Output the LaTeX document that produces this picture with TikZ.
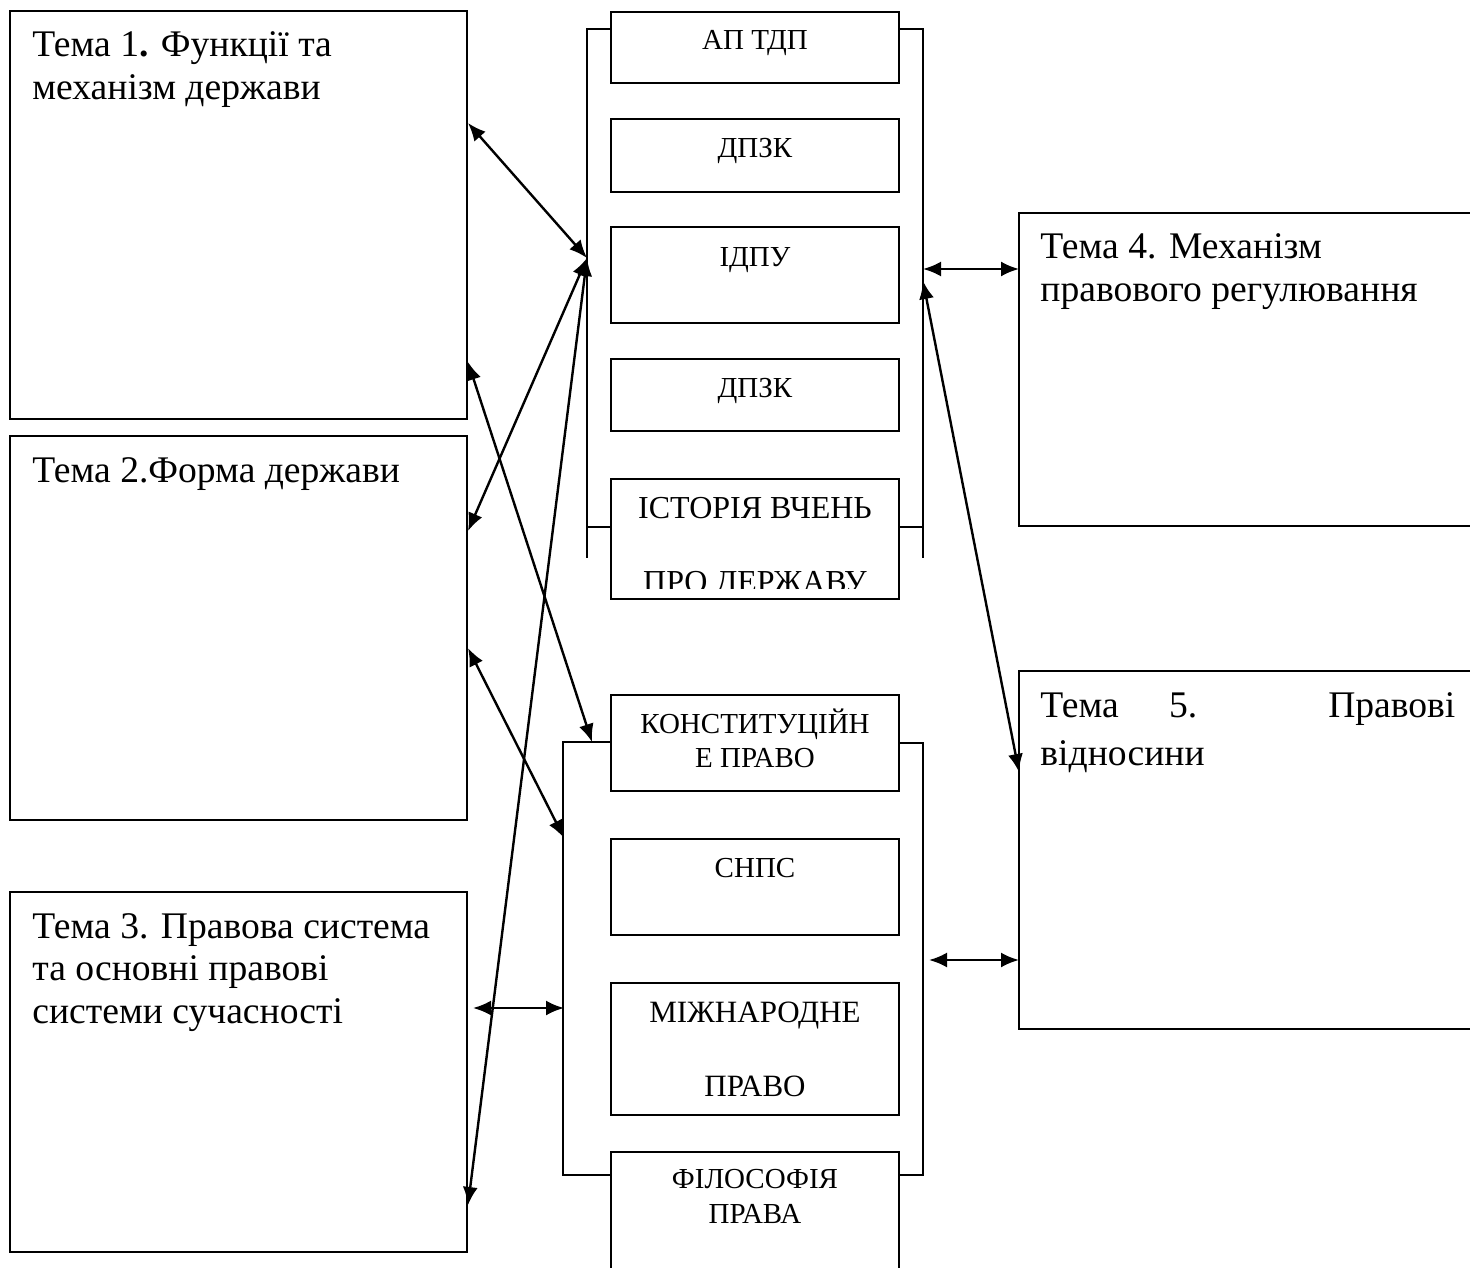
\documentclass[tikz,border=0pt]{standalone}
\usepackage{fontspec}
\setmainfont{Liberation Serif}
\usetikzlibrary{arrows.meta,fit}
\begin{document}
\begin{tikzpicture}[x=0.5pt,y=-0.5pt,
  box/.style={draw, line width=0.6pt, inner sep=0pt, rectangle},
  brk/.style={line width=0.6pt},
  big/.style={font=\fontsize{18.8}{21.5}\selectfont, inner sep=0pt, anchor=base west},
  small/.style={font=\fontsize{14.5}{17}\selectfont, inner sep=0pt, anchor=base},
  mid/.style={font=\fontsize{15.5}{18}\selectfont, inner sep=0pt, anchor=base},
  wide/.style={font=\fontsize{16}{18}\selectfont, inner sep=0pt, anchor=base},
  link/.style={line width=1.2pt, {Latex[length=9pt,width=7.5pt]}-{Latex[length=9pt,width=7.5pt]}}
]
\useasboundingbox (0,0) rectangle (1470,1267);
\clip (0,0) rectangle (1470,1267);

% left topic boxes
\node[box, fit={(10,11) (467,419)}] (b1) {};
\node[box, fit={(10,436) (467,820)}] (b2) {};
\node[box, fit={(10,892) (467,1252)}] (b3) {};
% right topic boxes (cut by the right edge)
\node[box, fit={(1019,213) (1480,526)}] (b4) {};
\node[box, fit={(1019,671) (1480,1029)}] (b5) {};

% upper group of subjects
\node[box, fit={(611,12) (899,83)}] (m1) {};
\node[box, fit={(611,119) (899,192)}] (m2) {};
\node[box, fit={(611,227) (899,323)}] (m3) {};
\node[box, fit={(611,359) (899,431)}] (m4) {};
\node[box, fit={(611,479) (899,599)}] (m5) {};
% lower group of subjects
\node[box, fit={(611,695) (899,791)}] (n1) {};
\node[box, fit={(611,839) (899,935)}] (n2) {};
\node[box, fit={(611,983) (899,1115)}] (n3) {};
\node[box, fit={(611,1152) (899,1290)}] (n4) {};

% brackets
\draw[brk] (611,29) -- (587,29) -- (587,558);
\draw[brk] (587,527) -- (611,527);
\draw[brk] (899,29) -- (923,29) -- (923,558);
\draw[brk] (899,527) -- (923,527);
\draw[brk] (611,742) -- (563,742) -- (563,1175) -- (611,1175);
\draw[brk] (899,743) -- (923,743) -- (923,1175) -- (899,1175);

% texts of topic boxes
\node[big] (t1a) at (32,57) {Тема 1{\bfseries .} Функції та};
\node[big] (t1b) at (32,100) {механізм держави};
\node[big] (t2) at (32,482) {Тема 2.Форма держави};
\node[big] (t3a) at (32,938) {Тема 3. Правова система};
\node[big] (t3b) at (32,980) {та основні правові};
\node[big] (t3c) at (32,1023) {системи сучасності};
\node[big] (t4a) at (1040,259) {Тема 4. Механізм};
\node[big] (t4b) at (1040,302) {правового регулювання};
\node[big] (t5a) at (1040,717) {\hbox to 207.5pt{Тема\hskip 0pt plus 1fil 5.\hskip 0pt plus 2.6fil Правові}};
\node[big] (t5b) at (1040,765) {відносини};

% texts of subject boxes
\node[small] (s1) at (755,50) {АП ТДП};
\node[small] (s2) at (755,158) {ДПЗК};
\node[small] (s3) at (755,267) {ІДПУ};
\node[small] (s4) at (755,397) {ДПЗК};
\node[wide] (s5a) at (755,518) {ІСТОРІЯ ВЧЕНЬ};
\begin{scope}
\clip (611,479) rectangle (899,588);
\node[wide] (s5b) at (755,592) {ПРО ДЕРЖАВУ};
\end{scope}
\node[small] (r1a) at (755,733) {КОНСТИТУЦІЙН};
\node[small] (r1b) at (755,767) {Е ПРАВО};
\node[small] (r2) at (755,877) {СНПС};
\node[mid] (r3a) at (755,1022) {МІЖНАРОДНЕ};
\node[mid] (r3b) at (755,1096) {ПРАВО};
\node[small] (r4a) at (755,1188) {ФІЛОСОФІЯ};
\node[small] (r4b) at (755,1223) {ПРАВА};

% connector end points
\coordinate (ta) at (587,258);
\coordinate (e1) at (468,123);
\coordinate (e2) at (468,531);
\coordinate (e3) at (468,1205);
\coordinate (e4) at (468,362);
\coordinate (f4) at (592,742);
\coordinate (e5) at (468,648);
\coordinate (f5) at (564,838);
\coordinate (e6) at (473,1008);
\coordinate (f6) at (564,1008);
\coordinate (g7) at (923,269);
\coordinate (h7) at (1019,269);
\coordinate (g8) at (923,281);
\coordinate (h8) at (1019,772);
\coordinate (g9) at (929,960);
\coordinate (h9) at (1019,960);

\draw[link] (e1) -- (ta);
\draw[link] (e2) -- (ta);
\draw[link] (e3) -- (ta);
\draw[link] (e4) -- (f4);
\draw[link] (e5) -- (f5);
\draw[link] (e6) -- (f6);
\draw[link] (g7) -- (h7);
\draw[link] (g8) -- (h8);
\draw[link] (g9) -- (h9);
\end{tikzpicture}
\end{document}
